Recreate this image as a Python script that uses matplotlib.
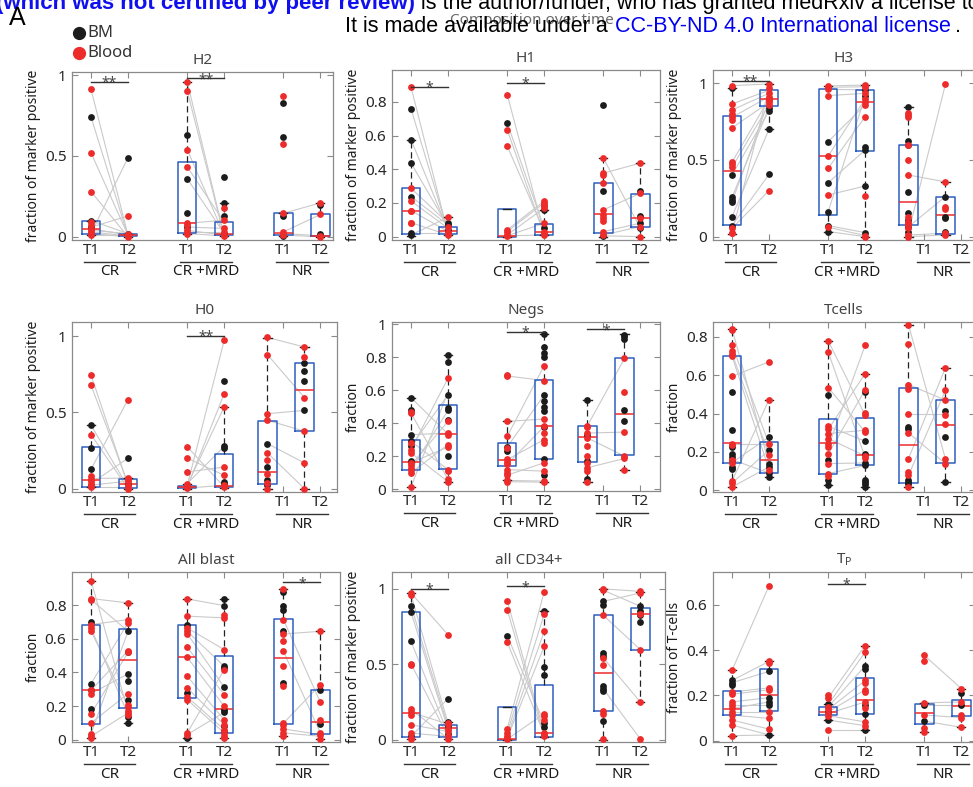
import numpy as np
import matplotlib as mpl
mpl.use('Agg')
import matplotlib.pyplot as plt
from matplotlib.lines import Line2D
from matplotlib.transforms import blended_transform_factory

plt.rcParams['font.family'] = ['Noto Sans', 'DejaVu Sans']

W, H = 973, 787

groups = ['CR', 'CR +MRD', 'NR']
times = ['T1', 'T2', 'T1', 'T2', 'T1', 'T2']
xpos = [1, 2, 3.6, 4.6, 6.2, 7.2]

# ---------------- data (columns: CR T1, CR T2, MRD T1, MRD T2, NR T1, NR T2)
# box = (whisker low, q1, median, q3, whisker high)

H2_bm = [[0.742, 0.097, 0.06, 0.02], [0.49, 0.01, 0.02], [0.627, 0.36, 0.148, 0.06],
         [0.371, 0.206, 0.13, 0.02], [0.83, 0.62, 0.13, 0.005], [0.196, 0.02]]
H2_blood = [[0.913, 0.52, 0.28, 0.09, 0.07, 0.05, 0.04, 0.03, 0.02, 0.01], [0.128, 0.02, 0.01, 0.005, 0.0],
            [0.96, 0.905, 0.54, 0.433, 0.083, 0.07, 0.04, 0.03, 0.02], [0.175, 0.103, 0.052, 0.03, 0.01, 0.005],
            [0.872, 0.577, 0.145, 0.03, 0.02, 0.01], [0.21, 0.138, 0.006, 0.0]]
H2_box = [(0.01, 0.016, 0.047, 0.10, 0.10), (0.0, 0.003, 0.01, 0.02, 0.02), (0.02, 0.025, 0.083, 0.46, 0.96),
          (0.005, 0.008, 0.015, 0.09, 0.206), (0.005, 0.01, 0.025, 0.145, 0.145), (0.0, 0.003, 0.006, 0.14, 0.21)]
H2_pairs = [[(0.913, 0.01), (0.742, 0.005), (0.52, 0.01), (0.28, 0.0), (0.02, 0.49), (0.10, 0.02), (0.06, 0.128),
             (0.05, 0.01), (0.04, 0.02), (0.03, 0.005), (0.02, 0.0), (0.01, 0.01)],
            [(0.96, 0.005), (0.905, 0.0), (0.54, 0.01), (0.433, 0.09), (0.36, 0.02), (0.083, 0.103), (0.06, 0.052),
             (0.04, 0.01), (0.03, 0.03), (0.02, 0.005)],
            [(0.145, 0.21), (0.03, 0.138), (0.02, 0.006), (0.01, 0.0)]]
H2_sig = [(0, 0.96, '**'), (1, 0.98, '**')]

H1_bm = [[0.76, 0.576, 0.437, 0.238, 0.02, 0.01], [0.08, 0.07, 0.04], [0.675], [0.158, 0.05],
         [0.784, 0.272, 0.005], [0.272, 0.123, 0.08, 0.05]]
H1_blood = [[0.889, 0.288, 0.212, 0.155, 0.15, 0.083, 0.079], [0.115, 0.06, 0.03, 0.02, 0.01],
            [0.844, 0.635, 0.54, 0.04, 0.03, 0.01, 0.005], [0.212, 0.2, 0.19, 0.18, 0.17, 0.08, 0.03, 0.02, 0.01],
            [0.466, 0.377, 0.367, 0.318, 0.159, 0.13, 0.11, 0.09, 0.03, 0.01], [0.437, 0.258, 0.11, 0.06, 0.0]]
H1_box = [(0.005, 0.015, 0.15, 0.288, 0.576), (0.01, 0.015, 0.032, 0.055, 0.115), (0.0, 0.0, 0.005, 0.165, 0.165),
          (0.01, 0.012, 0.025, 0.075, 0.158), (0.0, 0.022, 0.137, 0.318, 0.466), (0.0, 0.06, 0.113, 0.255, 0.437)]
H1_pairs = [[(0.889, 0.02), (0.76, 0.03), (0.576, 0.04), (0.437, 0.06), (0.288, 0.08), (0.238, 0.07), (0.212, 0.05),
             (0.155, 0.03), (0.083, 0.01), (0.01, 0.115), (0.02, 0.02)],
            [(0.844, 0.02), (0.675, 0.05), (0.635, 0.01), (0.54, 0.03), (0.04, 0.212), (0.03, 0.2), (0.01, 0.17),
             (0.005, 0.08), (0.005, 0.01)],
            [(0.377, 0.437), (0.466, 0.05), (0.159, 0.258), (0.03, 0.08), (0.01, 0.06), (0.005, 0.0)]]
H1_sig = [(0, 0.89, '*'), (1, 0.913, '*')]

H3_bm = [[0.967, 0.402, 0.257, 0.24, 0.228, 0.13, 0.072], [0.84, 0.82, 0.70, 0.406],
         [0.62, 0.352, 0.163, 0.072, 0.033], [0.957, 0.917, 0.583, 0.565, 0.33, 0.026],
         [0.843, 0.624, 0.598, 0.293, 0.157, 0.109, 0.065, 0.028], [0.261, 0.13, 0.12, 0.028]]
H3_blood = [[0.985, 0.865, 0.826, 0.798, 0.778, 0.76, 0.71, 0.485, 0.472, 0.452, 0.054, 0.026, 0.022],
            [0.996, 0.967, 0.935, 0.913, 0.90, 0.89, 0.876, 0.86, 0.30],
            [0.983, 0.974, 0.961, 0.92, 0.526, 0.446, 0.272, 0.061],
            [0.989, 0.978, 0.935, 0.90, 0.88, 0.86, 0.783, 0.265, 0.007, 0.0],
            [0.809, 0.793, 0.778, 0.596, 0.50, 0.402, 0.13, 0.098, 0.087, 0.076, 0.054, 0.011, 0.0],
            [0.996, 0.357, 0.196, 0.178, 0.022, 0.011]]
H3_box = [(0.02, 0.075, 0.425, 0.785, 0.97), (0.70, 0.85, 0.90, 0.955, 0.996), (0.03, 0.14, 0.525, 0.96, 0.983),
          (0.0, 0.56, 0.875, 0.957, 0.99), (0.0, 0.075, 0.225, 0.60, 0.843), (0.011, 0.02, 0.14, 0.26, 0.357)]
H3_pairs = [[(0.985, 0.996), (0.865, 0.955), (0.826, 0.935), (0.778, 0.913), (0.71, 0.876), (0.485, 0.90),
             (0.452, 0.86), (0.402, 0.82), (0.257, 0.84), (0.228, 0.89), (0.13, 0.70), (0.072, 0.406),
             (0.054, 0.30), (0.026, 0.967)],
            [(0.983, 0.989), (0.974, 0.978), (0.961, 0.957), (0.92, 0.935), (0.62, 0.86), (0.526, 0.90),
             (0.446, 0.783), (0.352, 0.565), (0.272, 0.33), (0.163, 0.917), (0.072, 0.026), (0.061, 0.007),
             (0.033, 0.0)],
            [(0.402, 0.357), (0.028, 0.996), (0.065, 0.261), (0.011, 0.022), (0.0, 0.011)]]
H3_sig = [(0, 1.017, '**')]

H0_bm = [[0.415, 0.266, 0.127, 0.02], [0.20, 0.033], [0.02], [0.705, 0.277, 0.268, 0.044, 0.033],
         [0.295, 0.142, 0.055, 0.022], [0.825, 0.769, 0.703, 0.513]]
H0_blood = [[0.745, 0.679, 0.354, 0.083, 0.066, 0.048, 0.033, 0.022, 0.011], [0.583, 0.07, 0.061, 0.05, 0.022, 0.011, 0.0],
            [0.275, 0.20, 0.109, 0.033, 0.022, 0.011, 0.004], [0.972, 0.622, 0.535, 0.142, 0.087, 0.022, 0.011],
            [0.991, 0.878, 0.491, 0.448, 0.234, 0.186, 0.098, 0.039, 0.0], [0.928, 0.862, 0.596, 0.376, 0.168, 0.0]]
H0_box = [(0.011, 0.011, 0.055, 0.27, 0.415), (0.0, 0.005, 0.03, 0.06, 0.07), (0.0, 0.002, 0.008, 0.02, 0.033),
          (0.005, 0.008, 0.02, 0.23, 0.535), (0.0, 0.03, 0.11, 0.445, 0.99), (0.0, 0.375, 0.647, 0.822, 0.928)]
H0_pairs = [[(0.745, 0.022), (0.679, 0.033), (0.415, 0.011), (0.127, 0.583), (0.033, 0.20), (0.066, 0.07),
             (0.354, 0.0), (0.022, 0.05), (0.011, 0.011)],
            [(0.02, 0.972), (0.011, 0.622), (0.022, 0.535), (0.109, 0.142), (0.20, 0.087), (0.275, 0.011),
             (0.033, 0.277), (0.004, 0.022)],
            [(0.991, 0.928), (0.878, 0.596), (0.491, 0.513), (0.448, 0.376), (0.295, 0.168), (0.234, 0.0)]]
H0_sig = [(1, 1.0, '**')]

Negs_bm = [[0.556, 0.482, 0.331, 0.291, 0.261, 0.171], [0.813, 0.773, 0.572, 0.492, 0.478, 0.422, 0.201],
           [0.257, 0.231], [0.944, 0.863, 0.827, 0.803, 0.572, 0.536, 0.502, 0.472, 0.378, 0.181, 0.084],
           [0.542, 0.327, 0.171, 0.064], [0.938, 0.928, 0.914, 0.482, 0.412]]
Negs_blood = [[0.47, 0.462, 0.281, 0.241, 0.221, 0.161, 0.147, 0.131, 0.12, 0.10, 0.014],
              [0.673, 0.412, 0.341, 0.327, 0.271, 0.257, 0.12, 0.11, 0.06, 0.046],
              [0.69, 0.684, 0.412, 0.321, 0.251, 0.181, 0.167, 0.151, 0.12, 0.10, 0.086, 0.054, 0.046],
              [0.749, 0.659, 0.426, 0.382, 0.341, 0.301, 0.281, 0.161, 0.11, 0.05, 0.044],
              [0.386, 0.376, 0.341, 0.311, 0.261, 0.205, 0.157, 0.131, 0.11, 0.046],
              [0.793, 0.592, 0.347, 0.201, 0.187, 0.12]]
Negs_box = [(0.014, 0.12, 0.167, 0.30, 0.556), (0.046, 0.125, 0.335, 0.51, 0.813), (0.054, 0.14, 0.18, 0.28, 0.412),
            (0.044, 0.185, 0.385, 0.66, 0.944), (0.046, 0.165, 0.32, 0.385, 0.542), (0.12, 0.21, 0.455, 0.795, 0.94)]
Negs_pairs = [[(0.556, 0.335), (0.462, 0.06), (0.331, 0.341), (0.291, 0.12), (0.261, 0.572), (0.241, 0.673),
               (0.221, 0.046), (0.161, 0.257), (0.147, 0.412), (0.12, 0.478), (0.10, 0.271), (0.014, 0.59)],
              [(0.687, 0.659), (0.412, 0.426), (0.321, 0.75), (0.257, 0.572), (0.181, 0.301), (0.151, 0.382),
               (0.12, 0.11), (0.086, 0.161), (0.054, 0.05), (0.046, 0.044)],
              [(0.386, 0.793), (0.341, 0.347), (0.311, 0.201), (0.131, 0.187)]]
Negs_sig = [(1, 0.954, '*'), (2, 0.97, '*')]

Tcells_bm = [[0.513, 0.317, 0.226, 0.191, 0.174, 0.153, 0.122, 0.11], [0.278, 0.209, 0.139, 0.122, 0.09, 0.07],
             [0.499, 0.157, 0.052, 0.026], [0.513, 0.256, 0.191, 0.143, 0.13, 0.056, 0.043, 0.035, 0.017],
             [0.33, 0.322, 0.052, 0.043, 0.035], [0.414, 0.278, 0.043]]
Tcells_blood = [[0.843, 0.838, 0.757, 0.725, 0.713, 0.70, 0.595, 0.243, 0.235, 0.16, 0.144, 0.047, 0.038, 0.017],
                [0.67, 0.473, 0.243, 0.186, 0.108],
                [0.779, 0.722, 0.536, 0.334, 0.318, 0.296, 0.27, 0.243, 0.226, 0.188, 0.139, 0.087, 0.075],
                [0.757, 0.609, 0.525, 0.403, 0.391, 0.313, 0.304, 0.179, 0.17],
                [0.864, 0.762, 0.551, 0.53, 0.40, 0.299, 0.165, 0.096, 0.078, 0.017],
                [0.64, 0.522, 0.47, 0.391, 0.348, 0.162, 0.139]]
Tcells_box = [(0.017, 0.14, 0.245, 0.70, 0.843), (0.07, 0.09, 0.16, 0.25, 0.473), (0.026, 0.085, 0.245, 0.37, 0.779),
              (0.017, 0.13, 0.185, 0.375, 0.609), (0.017, 0.04, 0.235, 0.535, 0.864), (0.043, 0.14, 0.338, 0.47, 0.64)]
Tcells_pairs = [[(0.843, 0.139), (0.757, 0.243), (0.713, 0.186), (0.70, 0.108), (0.595, 0.67), (0.243, 0.243),
                 (0.16, 0.09), (0.144, 0.278), (0.047, 0.473), (0.038, 0.209), (0.017, 0.122)],
                [(0.779, 0.391), (0.722, 0.17), (0.536, 0.304), (0.334, 0.256), (0.318, 0.609), (0.296, 0.313),
                 (0.27, 0.179), (0.226, 0.757), (0.188, 0.525), (0.139, 0.143), (0.087, 0.13)],
                [(0.864, 0.162), (0.551, 0.47), (0.40, 0.40), (0.299, 0.139), (0.165, 0.64), (0.078, 0.522)]]
Tcells_sig = []

Blast_bm = [[0.699, 0.333, 0.298, 0.183], [0.645, 0.52, 0.391, 0.347, 0.238, 0.135, 0.099], [0.681, 0.278, 0.01],
            [0.838, 0.798, 0.437, 0.427, 0.312, 0.175, 0.163, 0.079, 0.05], [0.879, 0.794, 0.774, 0.645, 0.337],
            [0.294, 0.095]]
Blast_blood = [[0.947, 0.84, 0.834, 0.685, 0.665, 0.645, 0.294, 0.274, 0.153, 0.099, 0.034, 0.02, 0.01],
               [0.814, 0.715, 0.695, 0.53, 0.52, 0.274, 0.204, 0.193, 0.169, 0.159, 0.149],
               [0.838, 0.735, 0.665, 0.645, 0.631, 0.55, 0.49, 0.377, 0.308, 0.254, 0.238, 0.04, 0.03],
               [0.744, 0.725, 0.536, 0.417, 0.268, 0.199, 0.119, 0.089, 0.06, 0.04, 0.02, 0.01],
               [0.897, 0.715, 0.629, 0.586, 0.526, 0.441, 0.318, 0.099, 0.089, 0.064, 0.04, 0.02],
               [0.645, 0.328, 0.222, 0.119, 0.04, 0.03, 0.006]]
Blast_box = [(0.01, 0.095, 0.298, 0.685, 0.947), (0.099, 0.19, 0.475, 0.66, 0.814), (0.01, 0.25, 0.49, 0.68, 0.838),
             (0.01, 0.04, 0.18, 0.495, 0.838), (0.02, 0.095, 0.485, 0.72, 0.897), (0.006, 0.035, 0.105, 0.298, 0.645)]
Blast_pairs = [[(0.947, 0.169), (0.84, 0.814), (0.834, 0.645), (0.685, 0.715), (0.665, 0.149), (0.645, 0.204),
                (0.333, 0.695), (0.294, 0.53), (0.274, 0.391), (0.153, 0.52), (0.099, 0.274), (0.034, 0.645),
                (0.02, 0.159)],
               [(0.838, 0.798), (0.735, 0.725), (0.665, 0.536), (0.645, 0.437), (0.631, 0.312), (0.55, 0.268),
                (0.49, 0.199), (0.377, 0.119), (0.308, 0.089), (0.254, 0.06), (0.238, 0.04), (0.04, 0.417),
                (0.03, 0.163)],
               [(0.629, 0.645), (0.526, 0.04), (0.098, 0.328), (0.064, 0.03), (0.04, 0.02), (0.715, 0.222)]]
Blast_sig = [(2, 0.937, '*')]

CD34_bm = [[0.887, 0.843, 0.651, 0.022], [0.272, 0.117, 0.088, 0.04], [0.689], [0.85, 0.479, 0.43, 0.11, 0.082],
           [0.916, 0.894, 0.574, 0.556, 0.353, 0.336, 0.32, 0.121], [0.883, 0.854, 0.828, 0.777]]
CD34_blood = [[0.971, 0.96, 0.503, 0.497, 0.203, 0.181, 0.166, 0.099, 0.044, 0.011, 0.007],
              [0.695, 0.11, 0.104, 0.071, 0.055, 0.022, 0.007],
              [0.92, 0.861, 0.647, 0.073, 0.044, 0.022, 0.011, 0.004],
              [0.978, 0.832, 0.717, 0.618, 0.172, 0.155, 0.132, 0.044, 0.033, 0.022],
              [0.998, 0.989, 0.823, 0.541, 0.492, 0.188, 0.172, 0.004],
              [0.982, 0.971, 0.834, 0.596, 0.249, 0.004]]
CD34_box = [(0.007, 0.018, 0.175, 0.845, 0.97), (0.007, 0.015, 0.075, 0.10, 0.117), (0.0, 0.0, 0.005, 0.215, 0.215),
            (0.02, 0.02, 0.045, 0.365, 0.85), (0.0, 0.19, 0.44, 0.825, 0.998), (0.249, 0.595, 0.835, 0.875, 0.98)]
CD34_pairs = [[(0.971, 0.695), (0.96, 0.11), (0.887, 0.088), (0.843, 0.071), (0.651, 0.04), (0.503, 0.022),
               (0.203, 0.007), (0.181, 0.104), (0.099, 0.055), (0.044, 0.022), (0.022, 0.272)],
              [(0.92, 0.044), (0.861, 0.022), (0.689, 0.11), (0.647, 0.033), (0.073, 0.978), (0.044, 0.832),
               (0.022, 0.717), (0.011, 0.618), (0.004, 0.172)],
              [(0.998, 0.982), (0.989, 0.883), (0.916, 0.971), (0.823, 0.596), (0.541, 0.249), (0.336, 0.004)]]
CD34_sig = [(0, 0.998, '*'), (1, 1.015, '*')]

Tp_bm = [[0.266, 0.256, 0.245], [0.306, 0.19, 0.171, 0.157, 0.025], [0.16, 0.127, 0.091],
         [0.33, 0.318, 0.157, 0.117, 0.047], [0.157, 0.086], [0.212, 0.157]]
Tp_blood = [[0.31, 0.215, 0.205, 0.171, 0.157, 0.142, 0.127, 0.113, 0.091, 0.069, 0.022],
            [0.684, 0.35, 0.343, 0.233, 0.225, 0.127, 0.098, 0.051],
            [0.2, 0.189, 0.149, 0.138, 0.12, 0.11, 0.047],
            [0.42, 0.391, 0.266, 0.256, 0.225, 0.215, 0.171, 0.142, 0.083, 0.066],
            [0.38, 0.35, 0.167, 0.113, 0.057, 0.037], [0.23, 0.171, 0.113, 0.102, 0.059]]
Tp_box = [(0.022, 0.112, 0.14, 0.22, 0.31), (0.025, 0.13, 0.2, 0.315, 0.35), (0.09, 0.115, 0.127, 0.148, 0.16),
          (0.047, 0.118, 0.18, 0.275, 0.42), (0.037, 0.073, 0.12, 0.16, 0.167), (0.059, 0.11, 0.155, 0.18, 0.23)]
Tp_pairs = [[(0.31, 0.684), (0.266, 0.35), (0.256, 0.306), (0.215, 0.233), (0.205, 0.225), (0.171, 0.19),
             (0.157, 0.157), (0.142, 0.171), (0.127, 0.127), (0.113, 0.098), (0.091, 0.051), (0.069, 0.025),
             (0.022, 0.025)],
            [(0.189, 0.42), (0.16, 0.391), (0.149, 0.33), (0.138, 0.266), (0.127, 0.225), (0.12, 0.171),
             (0.11, 0.083), (0.091, 0.066), (0.047, 0.047)],
            [(0.376, 0.23), (0.167, 0.171), (0.157, 0.157), (0.113, 0.102), (0.086, 0.059)]]
Tp_sig = [(1, 0.694, '*')]

# ---------------- layout: (left, top, right, bottom) in pixels
panels = [
    ('H2', 'fraction of marker positive', H2_bm, H2_blood, H2_box, H2_pairs, H2_sig,
     [0, 0.5, 1], (-0.02, 1.02), 0.0, (72, 72, 333, 240)),
    ('H1', 'fraction of marker positive', H1_bm, H1_blood, H1_box, H1_pairs, H1_sig,
     [0, 0.2, 0.4, 0.6, 0.8], (-0.02, 0.99), 0.0, (392, 70, 660, 240)),
    ('H3', 'fraction of marker positive', H3_bm, H3_blood, H3_box, H3_pairs, H3_sig,
     [0, 0.5, 1], (-0.022, 1.087), -0.43, (713, 70, 975, 240)),
    ('H0', 'fraction of marker positive', H0_bm, H0_blood, H0_box, H0_pairs, H0_sig,
     [0, 0.5, 1], (-0.022, 1.092), -0.43, (72, 322, 337, 492)),
    ('Negs', 'fraction', Negs_bm, Negs_blood, Negs_box, Negs_pairs, Negs_sig,
     [0, 0.2, 0.4, 0.6, 0.8, 1], (-0.01, 1.014), -0.43, (392, 322, 660, 491)),
    ('Tcells', 'fraction', Tcells_bm, Tcells_blood, Tcells_box, Tcells_pairs, Tcells_sig,
     [0, 0.2, 0.4, 0.6, 0.8], (-0.009, 0.878), -0.43, (713, 322, 975, 492)),
    ('All blast', 'fraction', Blast_bm, Blast_blood, Blast_box, Blast_pairs, Blast_sig,
     [0, 0.2, 0.4, 0.6, 0.8], (-0.014, 0.998), 0.0, (72, 572, 340, 742)),
    ('all CD34+', 'fraction of marker positive', CD34_bm, CD34_blood, CD34_box, CD34_pairs, CD34_sig,
     [0, 0.5, 1], (-0.015, 1.11), 0.0, (392, 572, 665, 742)),
    (r'T$\mathregular{_P}$', 'fraction of T-cells', Tp_bm, Tp_blood, Tp_box, Tp_pairs, Tp_sig,
     [0, 0.2, 0.4, 0.6], (-0.006, 0.745), 0.0, (713, 572, 975, 742)),
]

BLUE = '#2d5fc0'
RED = '#ee2b2b'
BLACK = '#1c1c1c'
SPINE = '#8a8a8a'

fig = plt.figure(figsize=(W / 100, H / 100), dpi=100)

for (title, ylab, bm, blood, box, pairs, sig, yt, ylim, shift, rect) in panels:
    l, t, r, b = rect
    ax = fig.add_axes([l / W, 1 - b / H, (r - l) / W, (b - t) / H])
    xd = list(xpos)
    xd[4] += shift
    xd[5] += shift

    # paired samples
    for g in range(3):
        for a, c in pairs[g]:
            ax.plot([xd[2 * g], xd[2 * g + 1]], [a, c], color='#cacaca', lw=0.8, zorder=1)

    stats = [dict(whislo=s[0], q1=s[1], med=s[2], q3=s[3], whishi=s[4], fliers=[]) for s in box]
    ax.bxp(stats, positions=xd, widths=0.5, showfliers=False, manage_ticks=False,
           boxprops=dict(color=BLUE, lw=1.1),
           medianprops=dict(color=RED, lw=1.1),
           whiskerprops=dict(color='#222222', lw=0.9, ls=(0, (5, 3))),
           capprops=dict(color='#222222', lw=1.0), capwidths=0.22, zorder=2)

    for i in range(6):
        ax.scatter([xd[i]] * len(bm[i]), bm[i], s=24, color=BLACK, linewidths=0, zorder=3)
        ax.scatter([xd[i]] * len(blood[i]), blood[i], s=24, color=RED, linewidths=0, zorder=3)

    # significance bars
    for g, y, lab in sig:
        ax.plot([xd[2 * g], xd[2 * g + 1]], [y, y], color='#333333', lw=1, zorder=4, clip_on=False)
        ax.annotate(lab, ((xd[2 * g] + xd[2 * g + 1]) / 2, y), xytext=(0, -3.5), textcoords='offset points',
                    ha='center', va='baseline', fontsize=10, color='#444444', annotation_clip=False)

    ax.set_xlim(1 - 19 / 37, 1 - 19 / 37 + (r - l) / 37)
    ax.set_ylim(*ylim)
    ax.set_xticks(xpos)
    ax.set_xticklabels(times)
    ax.set_yticks(yt)
    ax.set_yticklabels([f'{v:g}' for v in yt])
    ax.tick_params(direction='in', length=4, width=0.8, color=SPINE, top=True, right=True,
                   labelsize=11, labelcolor='#262626')
    ax.tick_params(axis='x', pad=2)
    ax.tick_params(axis='y', pad=4)
    for sp in ax.spines.values():
        sp.set_color(SPINE)
        sp.set_linewidth(0.9)
    ax.set_title(title, fontsize=11, color='#444444', pad=6)
    ax.set_ylabel(ylab, fontsize=10, color='#1a1a1a', labelpad=3)

    trans = blended_transform_factory(ax.transData, ax.transAxes)
    for g in range(3):
        x1, x2 = xpos[2 * g], xpos[2 * g + 1]
        ax.plot([x1 - 0.2, x2 + 0.2], [-0.13, -0.13], transform=trans, clip_on=False, color='#333333', lw=1)
        ax.text((x1 + x2) / 2, -0.145, groups[g], transform=trans, ha='center', va='top', fontsize=11,
                color='#1a1a1a')

# ---------------- header texts
fig.text(532 / W, 1 - 20 / H, 'Composition over time', ha='center', va='center', fontsize=11, color='#6a6a6a')
hdr = dict(fontsize=15.5, va='baseline', family=['Liberation Sans', 'DejaVu Sans'])
fig.text(415 / W, 1 - 9 / H, '(which was not certified by peer review)', ha='right', weight='bold',
         color='#1010ee', fontsize=16, va='baseline', family=['Liberation Sans', 'DejaVu Sans'])
fig.text(421 / W, 1 - 9 / H, 'is the author/funder, who has granted medRxiv a license to', ha='left',
         color='black', **hdr)
fig.text(345 / W, 1 - 32 / H, 'It is made available under a', ha='left', color='black', **hdr)
fig.text(615 / W, 1 - 32 / H, 'CC-BY-ND 4.0 International license', ha='left', color='#0000ee', **hdr)
fig.text(955 / W, 1 - 32 / H, '.', ha='left', color='black', **hdr)
fig.text(17 / W, 1 - 25 / H, 'A', ha='center', va='baseline', fontsize=18, color='black',
         family=['Liberation Sans', 'DejaVu Sans'])

# legend
for yy, col, lab in [(33, BLACK, 'BM'), (53, RED, 'Blood')]:
    fig.add_artist(Line2D([79 / W], [1 - yy / H], marker='o', ms=8.5, color=col, ls='none',
                          transform=fig.transFigure))
    fig.text(87 / W, 1 - yy / H, lab, ha='left', va='center', fontsize=12, color='#333333')

fig.savefig('out.png', dpi=100)
